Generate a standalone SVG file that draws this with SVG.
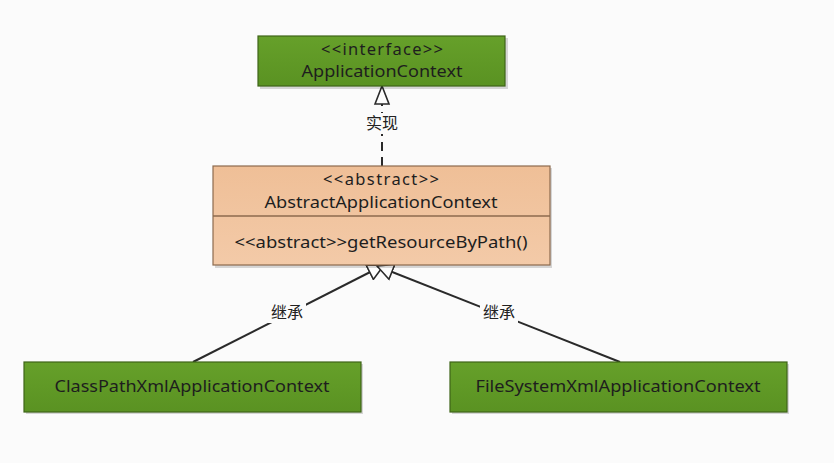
<svg xmlns="http://www.w3.org/2000/svg" width="834" height="463" viewBox="0 0 834 463">
<style>
.t{font-family:"Noto Sans","Liberation Sans",sans-serif;font-size:16.5px;fill:#1e1e1e;text-anchor:middle}
.cn{font-family:"Noto Sans CJK SC","Noto Sans",sans-serif;font-size:16px;fill:#222;text-anchor:middle}
.green{fill:url(#gg);stroke:#3e6418;stroke-width:1.2}
.orange{fill:url(#og);stroke:#8c6a4e;stroke-width:1.2}
.shadow{fill:#000;opacity:0.15}
.conn{stroke:#2a2a2a;stroke-width:2;fill:none}
.lblbg{fill:#fbfbfb}
</style>
<defs>
<linearGradient id="gg" x1="0" y1="0" x2="0" y2="1">
<stop offset="0" stop-color="#66a02a"/>
<stop offset="1" stop-color="#5a9222"/>
</linearGradient>
<linearGradient id="og" x1="0" y1="0" x2="0" y2="1">
<stop offset="0" stop-color="#efbf97"/>
<stop offset="1" stop-color="#f3caa8"/>
</linearGradient>
<marker id="hollow" markerUnits="userSpaceOnUse" markerWidth="20" markerHeight="18" refX="17" refY="9" orient="auto" viewBox="0 0 20 18">
<path d="M1,1 L17,9 L1,17 Z" fill="#fdfdfd" stroke="#2a2a2a" stroke-width="1.6" stroke-linejoin="miter"/>
</marker>
</defs>
<rect width="834" height="463" fill="#fbfbfb"/>

<g id="connectors">
<line class="conn" x1="382" y1="166" x2="382" y2="104" stroke-dasharray="9,6"/>
<path d="M375,104 L382,86 L389,104 Z" fill="#fdfdfd" stroke="#2a2a2a" stroke-width="1.6"/>
<rect class="lblbg" x="362" y="113" width="40" height="21"/>
<text class="cn" x="382" y="129">实现</text>

<line class="conn" x1="193" y1="362" x2="384" y2="265" marker-end="url(#hollow)"/>
<rect class="lblbg" x="268" y="302" width="38" height="21"/>
<text class="cn" x="287" y="318">继承</text>

<line class="conn" x1="620" y1="362" x2="377" y2="266" marker-end="url(#hollow)"/>
<rect class="lblbg" x="480" y="302" width="38" height="21"/>
<text class="cn" x="499" y="318">继承</text>
</g>

<g id="ApplicationContext">
<rect class="shadow" x="260" y="38" width="248" height="51"/>
<rect class="green" x="258" y="36" width="247" height="50"/>
<text class="t" x="382" y="55" textLength="122" lengthAdjust="spacing">&lt;&lt;interface&gt;&gt;</text>
<text class="t" x="382" y="77" textLength="161" lengthAdjust="spacingAndGlyphs">ApplicationContext</text>
</g>

<g id="AbstractApplicationContext">
<rect class="shadow" x="215" y="168" width="337" height="100"/>
<rect class="orange" x="213" y="166" width="337" height="99"/>
<line x1="213" y1="216" x2="550" y2="216" stroke="#8c6a4e" stroke-width="1.5"/>
<text class="t" x="381" y="185" textLength="116" lengthAdjust="spacing">&lt;&lt;abstract&gt;&gt;</text>
<text class="t" x="381" y="208" textLength="233" lengthAdjust="spacingAndGlyphs">AbstractApplicationContext</text>
<text class="t" x="381" y="248" textLength="293" lengthAdjust="spacingAndGlyphs">&lt;&lt;abstract&gt;&gt;getResourceByPath()</text>
</g>

<g id="ClassPathXmlApplicationContext">
<rect class="shadow" x="26" y="364" width="337" height="50"/>
<rect class="green" x="24" y="362" width="337" height="50"/>
<text class="t" x="192" y="392" textLength="275" lengthAdjust="spacingAndGlyphs">ClassPathXmlApplicationContext</text>
</g>

<g id="FileSystemXmlApplicationContext">
<rect class="shadow" x="452" y="364" width="337" height="50"/>
<rect class="green" x="450" y="362" width="337" height="50"/>
<text class="t" x="618" y="392" textLength="285" lengthAdjust="spacingAndGlyphs">FileSystemXmlApplicationContext</text>
</g>
</svg>
